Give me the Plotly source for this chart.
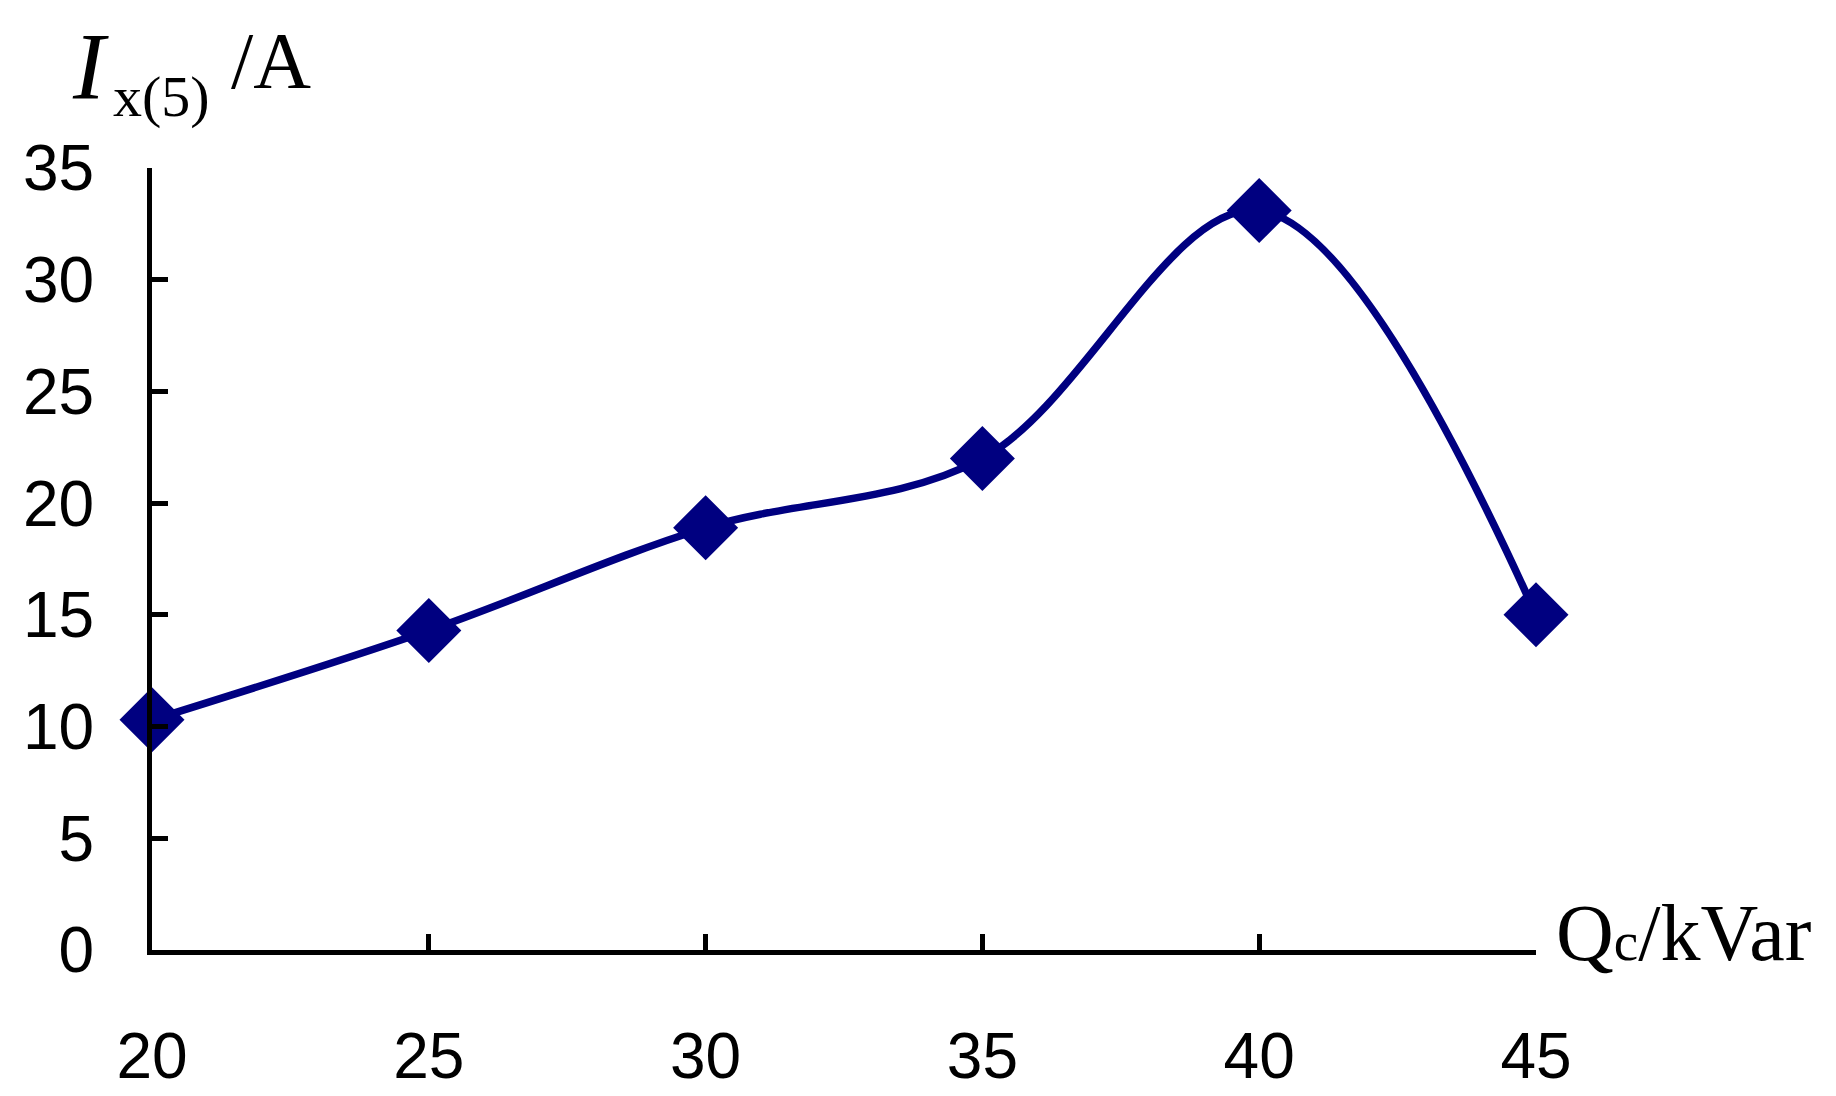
import plotly.graph_objects as go

# data
qc = [20, 25, 30, 35, 40, 45]
ix5 = [10.3, 14.3, 18.9, 22.0, 33.1, 15.0]
x_ticks = [20, 25, 30, 35, 40, 45]
y_ticks = [0, 5, 10, 15, 20, 25, 30, 35]

W, H = 1836, 1096
L, R, T, B = 144, 308, 160, 142
pw, ph = W - L - R, H - T - B


def px(x):
    # pixel -> paper x
    return (x - L) / pw


def py(y):
    # pixel -> paper y
    return (H - B - y) / ph


navy = '#000080'
serif = 'Liberation Serif, Times New Roman, serif'
sans = 'Liberation Sans, Arial, sans-serif'

fig = go.Figure()
fig.add_trace(go.Scatter(
    x=qc, y=ix5,
    mode='lines+markers',
    line=dict(color=navy, width=7.5, shape='spline', smoothing=1),
    marker=dict(symbol='diamond', size=50, color=navy),
    cliponaxis=False,
    showlegend=False,
))

axis_common = dict(
    showline=True, linecolor='black', linewidth=5,
    ticks='inside', ticklen=16, tickwidth=5, tickcolor='black',
    showgrid=False, zeroline=False,
    tickfont=dict(family=sans, size=64, color='black'),
)

fig.update_xaxes(range=[20, 45], tickvals=x_ticks, ticklabelstandoff=46, **axis_common)
fig.update_yaxes(range=[0, 35], tickvals=y_ticks, ticklabelstandoff=40, **axis_common)

# y axis title pieces (big italic I, subscript, unit)
fig.add_annotation(text='<i>I</i>', xref='paper', yref='paper',
                   x=px(62), y=py(1), xanchor='left', yanchor='top',
                   showarrow=False, font=dict(family=serif, size=96, color='black'))
fig.add_annotation(text='x(5)', xref='paper', yref='paper',
                   x=px(103), y=py(122), xanchor='left', yanchor='bottom',
                   showarrow=False, font=dict(family=serif, size=58, color='black'))
fig.add_annotation(text='/A', xref='paper', yref='paper',
                   x=px(221), y=py(98), xanchor='left', yanchor='bottom',
                   showarrow=False, font=dict(family=serif, size=80, color='black'))

# x axis title
fig.add_annotation(text='Q<span style="font-size:55px">c</span>/kVar',
                   xref='paper', yref='paper',
                   x=px(1546), y=py(983), xanchor='left', yanchor='bottom',
                   showarrow=False, font=dict(family=serif, size=80, color='black'))

fig.update_layout(
    width=W, height=H,
    margin=dict(l=L, r=R, t=T, b=B, pad=0),
    plot_bgcolor='white', paper_bgcolor='white',
)

fig.write_html('out.html')
